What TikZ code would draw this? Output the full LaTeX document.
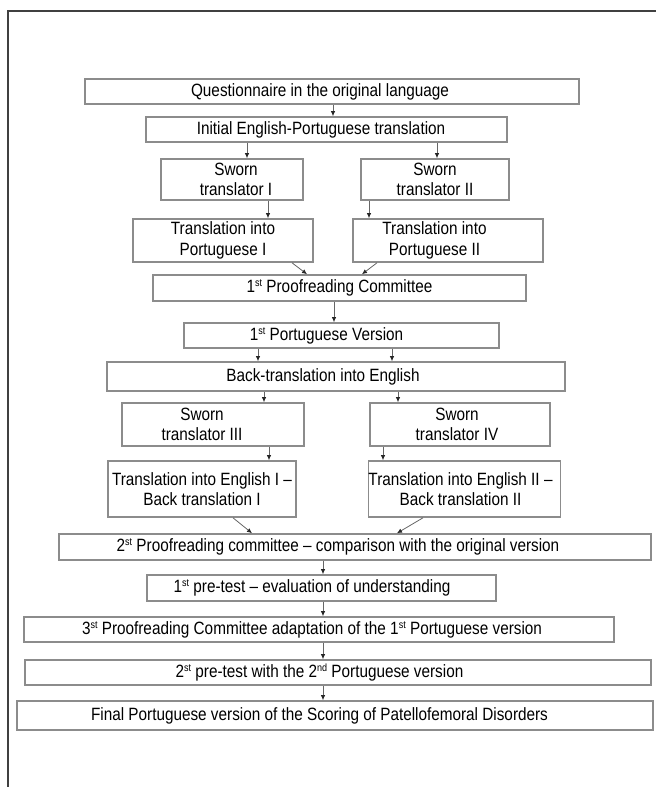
\documentclass[tikz,border=0pt]{standalone}
\usepackage{fontspec}
\newfontfamily\boxfont{Liberation Sans}[FakeStretch=0.86,Ligatures=TeX]
\usetikzlibrary{arrows.meta}
\newcommand{\supx}[1]{\raisebox{6pt}{\fontsize{10.5}{10}\selectfont #1}}

\begin{document}
\begin{tikzpicture}[x=1pt,y=-1pt,
  box/.style={draw=black!45,line width=1.6pt,fill=white,inner sep=0pt,
              align=center,font=\boxfont\fontsize{17.8}{20.5}\selectfont,text=black},
  arr/.style={draw=black!60,line width=0.8pt,
              -{Latex[length=5pt,width=4.5pt,color=black!85]}},
  frame/.style={draw=black!75,line width=1.5pt},
]
\useasboundingbox (0,0) rectangle (656,787);

% Frame
\draw[frame] (8,787) -- (8,11) -- (656,11);

% Translation into Portuguese
\node[box,minimum width=494pt,minimum height=25pt] (q) at (332,91.5)
  {Questionnaire in the original language\hspace*{24pt}};
\node[box,minimum width=361pt,minimum height=25pt] (init) at (326.5,129.5)
  {Initial English-Portuguese translation\hspace*{11pt}};
\node[box,minimum width=142pt,minimum height=41pt] (sw1) at (232,179.5)
  {\hspace*{8pt}Sworn\\\hspace*{8pt}translator I};
\node[box,minimum width=148pt,minimum height=41pt] (sw2) at (435,179.5)
  {Sworn\\translator II};
\node[box,minimum width=180pt,minimum height=43pt] (tp1) at (223,240.5)
  {Translation into\\Portuguese I};
\node[box,minimum width=190pt,minimum height=43pt] (tp2) at (448,240.5)
  {Translation into\hspace*{27pt}\\Portuguese II\hspace*{27pt}};
\node[box,minimum width=373pt,minimum height=26pt] (pr1) at (339.5,288)
  {1\supx{st} Proofreading Committee};
\node[box,minimum width=315pt,minimum height=25pt] (pv1) at (341.5,335.5)
  {1\supx{st} Portuguese Version\hspace*{30pt}};

% Back-translation
\node[box,minimum width=458pt,minimum height=29pt] (bt) at (336,376.5)
  {Back-translation into English\hspace*{26pt}};
\node[box,minimum width=182pt,minimum height=43pt] (sw3) at (213,424.5)
  {Sworn\hspace*{22pt}\\translator III\hspace*{22pt}};
\node[box,minimum width=180pt,minimum height=43pt] (sw4) at (460,424.5)
  {Sworn\hspace*{6pt}\\translator IV\hspace*{6pt}};
\node[box,minimum width=188pt,minimum height=56pt] (te1) at (202,489)
  {Translation into English I –\\Back translation I};
\node[box,minimum width=189pt,minimum height=56pt] (te2) at (464.5,489)
  {Translation into English II –\hspace*{8pt}\\Back translation II\hspace*{8pt}};

% Proofreading and pre-tests
\node[box,minimum width=592pt,minimum height=26pt] (pr2) at (355,547)
  {2\supx{st} Proofreading committee – comparison with the original version\hspace*{34pt}};
\node[box,minimum width=349pt,minimum height=26pt] (pt1) at (321.5,588)
  {1\supx{st} pre-test – evaluation of understanding\hspace*{19pt}};
\node[box,minimum width=590pt,minimum height=25pt] (pr3) at (319,629.5)
  {3\supx{st} Proofreading Committee adaptation of the 1\supx{st} Portuguese version\hspace*{14pt}};
\node[box,minimum width=626pt,minimum height=25pt] (pt2) at (338,672.5)
  {2\supx{st} pre-test with the 2\supx{nd} Portuguese version\hspace*{37pt}};
\node[box,minimum width=636pt,minimum height=29pt] (fin) at (335,715.5)
  {Final Portuguese version of the Scoring of Patellofemoral Disorders\hspace*{31pt}};

% Arrows
\draw[arr] (q.south -| 333,0) -- (init.north -| 333,0);
\draw[arr] (init.south -| 247,0) -- (sw1.north -| 247,0);
\draw[arr] (init.south -| 437,0) -- (sw2.north -| 437,0);
\draw[arr] (sw1.south -| 268,0) -- (tp1.north -| 268,0);
\draw[arr] (sw2.south -| 369,0) -- (tp2.north -| 369,0);
\draw[arr] (tp1.south -| 292,0) -- (pr1.north -| 307,0);
\draw[arr] (tp2.south -| 377,0) -- (pr1.north -| 362,0);
\draw[arr] (pr1.south -| 334,0) -- (pv1.north -| 334,0);
\draw[arr] (pv1.south -| 258,0) -- (bt.north -| 258,0);
\draw[arr] (pv1.south -| 392,0) -- (bt.north -| 392,0);
\draw[arr] (bt.south -| 264,0) -- (sw3.north -| 264,0);
\draw[arr] (bt.south -| 398,0) -- (sw4.north -| 398,0);
\draw[arr] (sw3.south -| 269,0) -- (te1.north -| 269,0);
\draw[arr] (sw4.south -| 383,0) -- (te2.north -| 383,0);
\draw[arr] (te1.south -| 233,0) -- (pr2.north -| 252,0);
\draw[arr] (te2.south -| 423,0) -- (pr2.north -| 397,0);
\draw[arr] (pr2.south -| 323,0) -- (pt1.north -| 323,0);
\draw[arr] (pt1.south -| 323,0) -- (pr3.north -| 323,0);
\draw[arr] (pr3.south -| 323,0) -- (pt2.north -| 323,0);
\draw[arr] (pt2.south -| 323,0) -- (fin.north -| 323,0);

\end{tikzpicture}
\end{document}
